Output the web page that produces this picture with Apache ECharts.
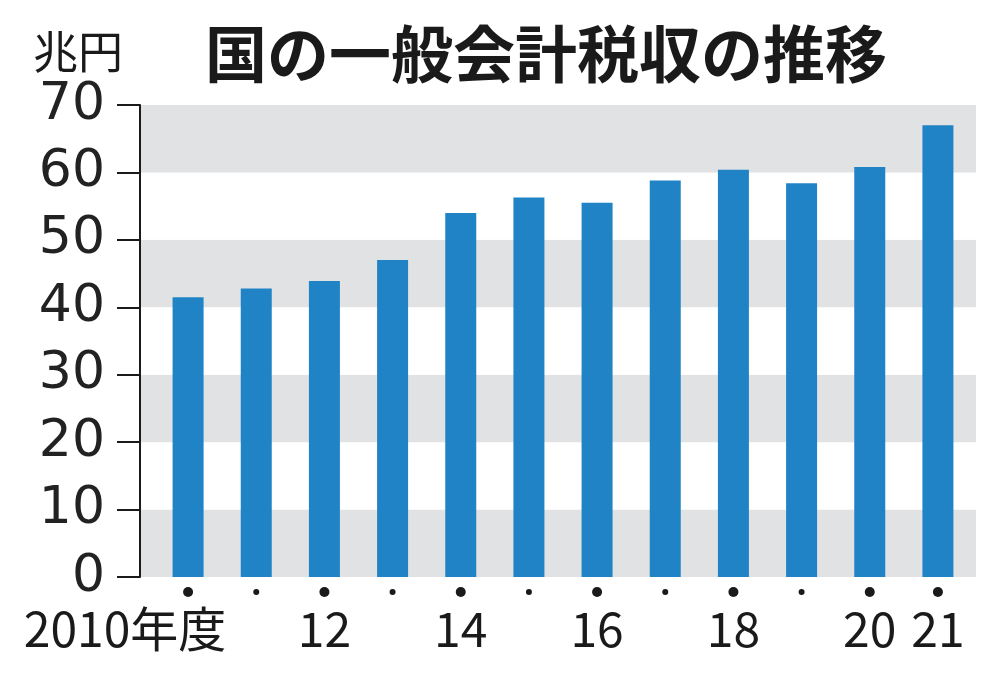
<!DOCTYPE html>
<html>
<head>
<meta charset="utf-8">
<script src="https://cdn.jsdelivr.net/npm/echarts@6/dist/echarts.min.js"></script>
<style>
  html, body { margin: 0; padding: 0; background: #fff; }
  #chart { width: 1000px; height: 683px; }
</style>
</head>
<body>
<div id="chart"></div>
<script>
// 年度と税収（兆円）
const years = ['2010', '2011', '2012', '2013', '2014', '2015', '2016', '2017', '2018', '2019', '2020', '2021'];
const tickLabels = ['2010年度', '', '12', '', '14', '', '16', '', '18', '', '20', '21'];
const revenue = [41.5, 42.8, 43.9, 47.0, 54.0, 56.3, 55.5, 58.8, 60.4, 58.4, 60.8, 67.0];

const numFont = "'Liberation Sans Narrow', 'Noto Sans CJK JP', sans-serif";

const chart = echarts.init(document.getElementById('chart'));

chart.setOption({
  animation: false,
  backgroundColor: '#fff',
  title: [
    {
      text: '国の一般会計税収の推移',
      left: 200, top: 18,
      textStyle: { fontFamily: 'Noto Sans CJK JP', fontWeight: 'bold', fontSize: 62, color: '#1a1a1a' }
    },
    {
      text: '兆円',
      left: 28, top: 24,
      textStyle: { fontFamily: 'Noto Sans CJK JP', fontWeight: 'normal', fontSize: 45, color: '#1a1a1a' }
    }
  ],
  grid: [
    // 背景の帯と目盛り
    { left: 140, right: 24, top: 105, bottom: 106 },
    // 棒
    { left: 154, right: 28, top: 105, bottom: 106 }
  ],
  xAxis: [
    { type: 'value', gridIndex: 0, show: false, min: 0, max: 1 },
    {
      type: 'category', gridIndex: 1, data: years,
      axisLine: { show: false }, axisTick: { show: false },
      axisLabel: {
        interval: 0, margin: 10,
        formatter: function (v, i) {
          const dot = (i % 2 === 0 || i === years.length - 1) ? '{big| }' : '{small| }';
          const lab = tickLabels[i];
          if (!lab) return dot;
          return dot + '\n' + (i === 0 ? '{first|' + lab + '}' : '{yr|' + lab + '}');
        },
        rich: {
          big: { width: 10, height: 10, lineHeight: 10, borderRadius: 5, backgroundColor: '#1a1a1a', verticalAlign: 'middle' },
          small: { width: 6, height: 6, lineHeight: 10, borderRadius: 3, backgroundColor: '#1a1a1a', verticalAlign: 'middle' },
          yr: { fontFamily: numFont, fontSize: 48, lineHeight: 64, color: '#1a1a1a' },
          first: { fontFamily: numFont, fontSize: 48, lineHeight: 64, color: '#1a1a1a', padding: [0, 126, 0, 0] }
        }
      }
    }
  ],
  yAxis: [
    {
      type: 'value', gridIndex: 0, min: 0, max: 70, interval: 10,
      axisLine: { show: true, lineStyle: { color: '#1a1a1a', width: 2 } },
      axisTick: { show: true, length: 23, lineStyle: { color: '#1a1a1a', width: 2 } },
      axisLabel: { margin: 35, fontFamily: 'DejaVu Sans', fontWeight: 'normal', fontSize: 52, color: '#222' },
      splitLine: { show: false },
      splitArea: { show: true, areaStyle: { color: ['#e1e2e4', '#ffffff'] } }
    },
    { type: 'value', gridIndex: 1, min: 0, max: 70, show: false, splitLine: { show: false } }
  ],
  series: [
    {
      type: 'bar', xAxisIndex: 1, yAxisIndex: 1,
      data: revenue, barWidth: 31,
      itemStyle: { color: '#2083c6' }
    }
  ]
});
</script>
</body>
</html>
